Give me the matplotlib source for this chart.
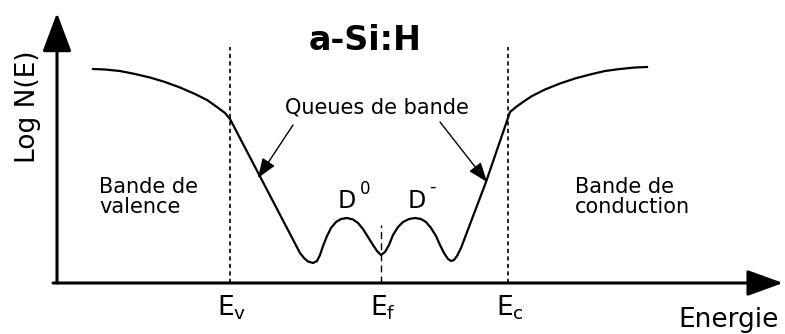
import matplotlib
matplotlib.use("Agg")
import matplotlib.pyplot as plt
from matplotlib.patches import ArrowStyle

plt.rcParams['font.family'] = ['DejaVu Sans']
plt.rcParams['mathtext.fontset'] = 'dejavusans'

# Density of states curve (energy, log N(E)) in arbitrary units
energy = [36, 48, 63, 78, 93, 108, 123, 138, 150, 160, 168, 173,
          243, 247, 251, 256, 260, 263, 266, 270, 274, 279, 284, 290,
          296, 301, 306, 311, 316, 320, 324, 328, 332, 336, 341, 346,
          352, 358, 364, 369, 374, 379, 383, 387, 391, 394, 397, 400,
          404, 429, 453, 459, 466, 475, 488, 503, 518, 533, 548, 563,
          578, 590]
log_n = [214, 213.5, 212, 209, 205.5, 201, 195.5, 189, 183, 176, 170, 164,
         30, 25, 21.5, 20, 22, 28, 37, 47, 55, 61, 64, 65,
         63.5, 60, 54, 46, 38, 32, 28, 31, 38, 48, 56, 61,
         64, 65, 64, 61, 55, 47, 38, 30, 24, 22, 23, 27,
         35, 101, 171, 176, 181, 187, 193.5, 199.5, 204.5, 208.5, 212, 214,
         215.5, 216]

# Characteristic energies
level_names = ['E$_\\mathregular{v}$', 'E$_\\mathregular{f}$', 'E$_\\mathregular{c}$']
level_pos = [173, 324, 451]
band_edge_top = 236
fermi_top = 58

x_axis_end = 726
y_axis_end = 270

fig = plt.figure(figsize=(7.85, 3.34), dpi=100)
ax = fig.add_axes([0, 0, 1, 1])
ax.set_xlim(-57, 728)
ax.set_ylim(-51, 283)
ax.axis('off')

# axes arrows
ax.annotate('', xy=(0, y_axis_end), xytext=(0, 0),
            arrowprops=dict(arrowstyle=ArrowStyle('-|>', head_length=24, head_width=9),
                            lw=2.2, color='black', shrinkA=0, shrinkB=0,
                            mutation_scale=1))
ax.annotate('', xy=(x_axis_end, 0), xytext=(-4, 0),
            arrowprops=dict(arrowstyle=ArrowStyle('-|>', head_length=22, head_width=8),
                            lw=2.2, color='black', shrinkA=0, shrinkB=0,
                            mutation_scale=1))

# curve
ax.plot(energy, log_n, color='black', lw=1.6, solid_joinstyle='round')

# band edge lines
ax.plot([level_pos[0]] * 2, [0, band_edge_top], color='black', lw=1.2,
        dashes=(2.5, 2))
ax.plot([level_pos[2]] * 2, [0, band_edge_top], color='black', lw=1.2,
        dashes=(2.5, 2))
ax.plot([level_pos[1]] * 2, [0, fermi_top], color='black', lw=1.0,
        dashes=(5, 3))

for name, pos in zip(level_names, level_pos):
    ax.text(pos + 2, -32, name, fontsize=19, ha='center', va='baseline')

# labels
ax.text(308, 242, 'a-Si:H', fontsize=24, fontweight='bold', ha='center',
        va='center')
ax.text(320, 170, 'Queues de bande', fontsize=15, ha='center', va='baseline')
ax.text(42, 86, 'Bande de\nvalence', fontsize=15, ha='left', va='center',
        linespacing=0.95)
ax.text(518, 86, 'Bande de\nconduction', fontsize=15, ha='left', va='center',
        linespacing=0.95)
ax.text(290, 75, 'D', fontsize=17, ha='center', va='baseline')
ax.text(308, 89, '0', fontsize=12, ha='center', va='baseline')
ax.text(360, 75, 'D', fontsize=17, ha='center', va='baseline')
ax.text(375, 91, '-', fontsize=13, ha='center', va='baseline')
ax.text(672, -44, 'Energie', fontsize=19, ha='center', va='baseline')
ax.text(-29, 176, 'Log N(E)', fontsize=19, rotation=90, ha='center', va='center')

# arrows to band tails
tail_style = ArrowStyle('-|>', head_length=12, head_width=4.5)
ax.annotate('', xy=(201, 105), xytext=(236, 158),
            arrowprops=dict(arrowstyle=tail_style, lw=1.0, color='black',
                            shrinkA=0, shrinkB=0, mutation_scale=1))
ax.annotate('', xy=(430, 101), xytext=(383, 161),
            arrowprops=dict(arrowstyle=tail_style, lw=1.0, color='black',
                            shrinkA=0, shrinkB=0, mutation_scale=1))

fig.savefig('out.png', dpi=100)
